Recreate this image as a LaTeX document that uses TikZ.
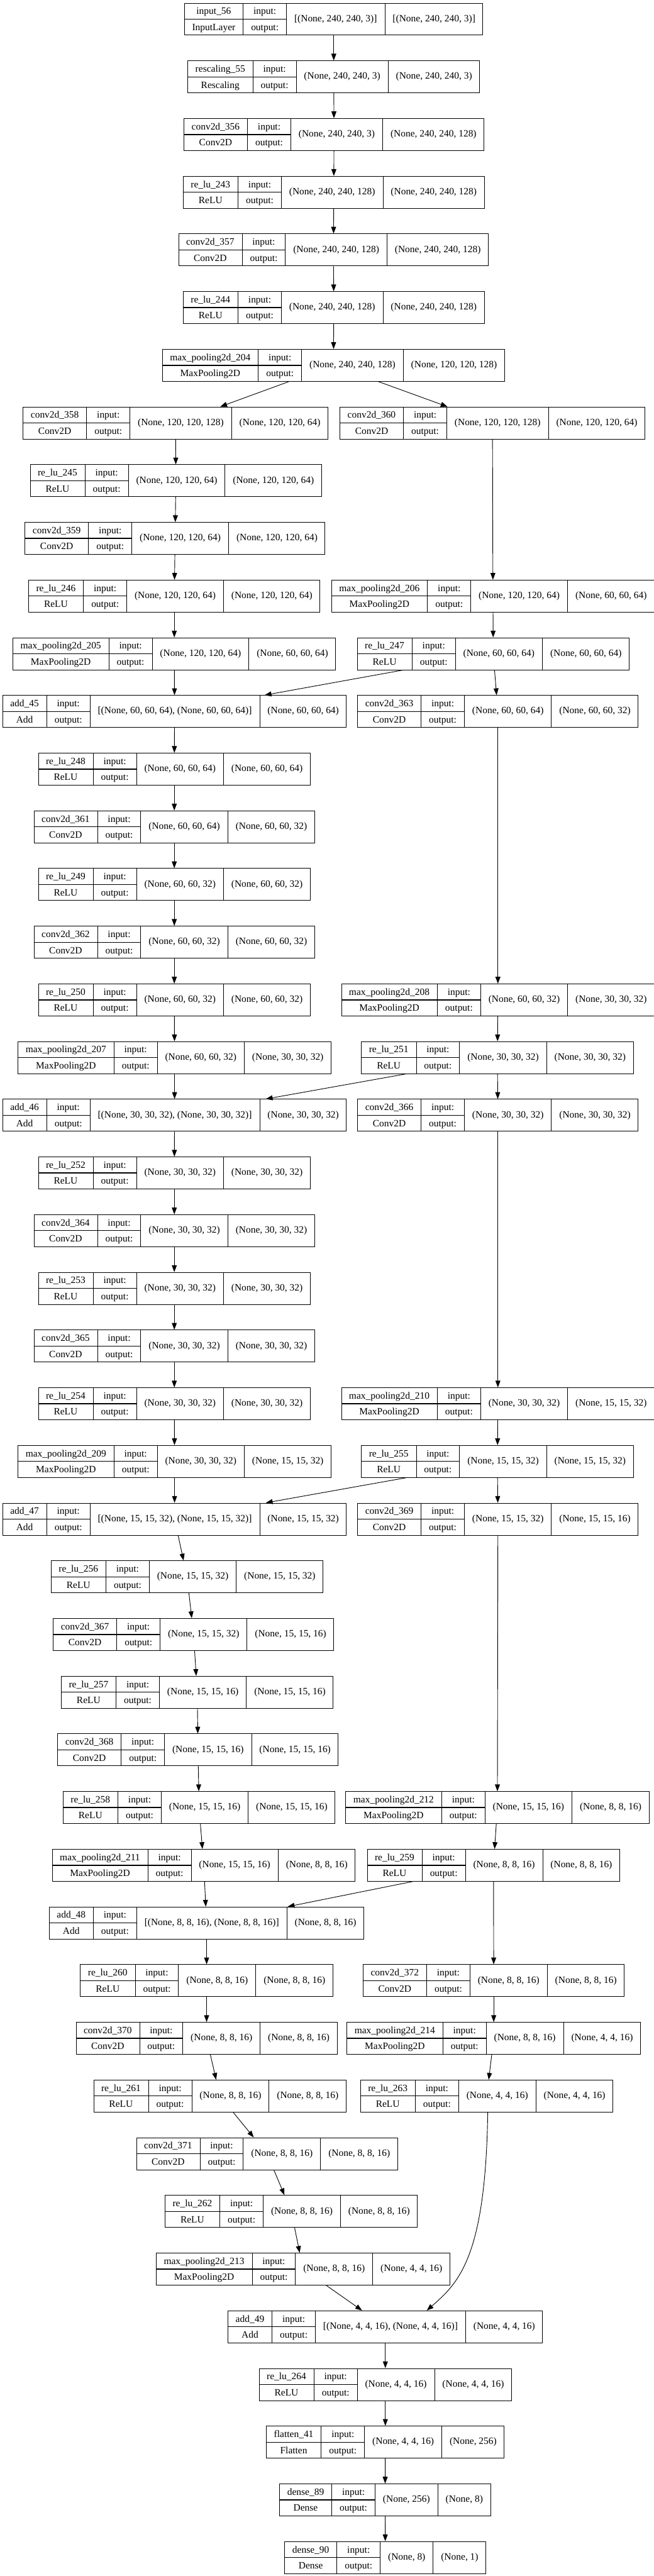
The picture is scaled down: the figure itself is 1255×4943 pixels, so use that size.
\documentclass[tikz,border=0pt]{standalone}
\usepackage{fontspec}
\setmainfont{Liberation Serif}
\usetikzlibrary{shapes.multipart,arrows.meta}

\newcommand{\layer}[7]{%
  \node[layer_box] (#1) at (#2,{-36.75-110.7*#3}) {\begin{tabular}{@{}c@{}}#4\\#5\end{tabular}\nodepart{two}\begin{tabular}{@{}c@{}}input:\\output:\end{tabular}\nodepart{three}#6\nodepart{four}#7};%
  \draw[mid_rule] (#1.west) -- (#1.two split);%
}

\begin{document}
\begin{tikzpicture}[
  x=1pt, y=1pt,
  layer_box/.style={draw, line width=1.1pt, rectangle split, rectangle split horizontal,
    rectangle split parts=4, inner xsep=14.5pt, inner ysep=0pt,
    font=\fontsize{18.67}{30.75}\selectfont},
  mid_rule/.style={line width=1.6pt},
  flow_edge/.style={-{Triangle[length=13pt,width=9.5pt]}, line width=1.1pt},
]
\useasboundingbox (0,0) rectangle (1255,-4943);

\layer{in56}{640.5}{0}{input\_56}{InputLayer}{[(None, 240, 240, 3)]}{[(None, 240, 240, 3)]}
\layer{res55}{640.5}{1}{rescaling\_55}{Rescaling}{(None, 240, 240, 3)}{(None, 240, 240, 3)}
\layer{c356}{641}{2}{conv2d\_356}{Conv2D}{(None, 240, 240, 3)}{(None, 240, 240, 128)}
\layer{r243}{640.5}{3}{re\_lu\_243}{ReLU}{(None, 240, 240, 128)}{(None, 240, 240, 128)}
\layer{c357}{640}{4}{conv2d\_357}{Conv2D}{(None, 240, 240, 128)}{(None, 240, 240, 128)}
\layer{r244}{640.5}{5}{re\_lu\_244}{ReLU}{(None, 240, 240, 128)}{(None, 240, 240, 128)}
\layer{mp204}{640}{6}{max\_pooling2d\_204}{MaxPooling2D}{(None, 240, 240, 128)}{(None, 120, 120, 128)}
\layer{c358}{337}{7}{conv2d\_358}{Conv2D}{(None, 120, 120, 128)}{(None, 120, 120, 64)}
\layer{c360}{945}{7}{conv2d\_360}{Conv2D}{(None, 120, 120, 128)}{(None, 120, 120, 64)}
\layer{r245}{337.5}{8}{re\_lu\_245}{ReLU}{(None, 120, 120, 64)}{(None, 120, 120, 64)}
\layer{c359}{336}{9}{conv2d\_359}{Conv2D}{(None, 120, 120, 64)}{(None, 120, 120, 64)}
\layer{r246}{334.5}{10}{re\_lu\_246}{ReLU}{(None, 120, 120, 64)}{(None, 120, 120, 64)}
\layer{mp206}{946}{10}{max\_pooling2d\_206}{MaxPooling2D}{(None, 120, 120, 64)}{(None, 60, 60, 64)}
\layer{mp205}{334.5}{11}{max\_pooling2d\_205}{MaxPooling2D}{(None, 120, 120, 64)}{(None, 60, 60, 64)}
\layer{r247}{946.5}{11}{re\_lu\_247}{ReLU}{(None, 60, 60, 64)}{(None, 60, 60, 64)}
\layer{a45}{335}{12}{add\_45}{Add}{[(None, 60, 60, 64), (None, 60, 60, 64)]}{(None, 60, 60, 64)}
\layer{c363}{955.5}{12}{conv2d\_363}{Conv2D}{(None, 60, 60, 64)}{(None, 60, 60, 32)}
\layer{r248}{334.5}{13}{re\_lu\_248}{ReLU}{(None, 60, 60, 64)}{(None, 60, 60, 64)}
\layer{c361}{334.5}{14}{conv2d\_361}{Conv2D}{(None, 60, 60, 64)}{(None, 60, 60, 32)}
\layer{r249}{334.5}{15}{re\_lu\_249}{ReLU}{(None, 60, 60, 32)}{(None, 60, 60, 32)}
\layer{c362}{334.5}{16}{conv2d\_362}{Conv2D}{(None, 60, 60, 32)}{(None, 60, 60, 32)}
\layer{r250}{334.5}{17}{re\_lu\_250}{ReLU}{(None, 60, 60, 32)}{(None, 60, 60, 32)}
\layer{mp208}{955.5}{17}{max\_pooling2d\_208}{MaxPooling2D}{(None, 60, 60, 32)}{(None, 30, 30, 32)}
\layer{mp207}{335}{18}{max\_pooling2d\_207}{MaxPooling2D}{(None, 60, 60, 32)}{(None, 30, 30, 32)}
\layer{r251}{954.5}{18}{re\_lu\_251}{ReLU}{(None, 30, 30, 32)}{(None, 30, 30, 32)}
\layer{a46}{335}{19}{add\_46}{Add}{[(None, 30, 30, 32), (None, 30, 30, 32)]}{(None, 30, 30, 32)}
\layer{c366}{955.5}{19}{conv2d\_366}{Conv2D}{(None, 30, 30, 32)}{(None, 30, 30, 32)}
\layer{r252}{334.5}{20}{re\_lu\_252}{ReLU}{(None, 30, 30, 32)}{(None, 30, 30, 32)}
\layer{c364}{334.5}{21}{conv2d\_364}{Conv2D}{(None, 30, 30, 32)}{(None, 30, 30, 32)}
\layer{r253}{334.5}{22}{re\_lu\_253}{ReLU}{(None, 30, 30, 32)}{(None, 30, 30, 32)}
\layer{c365}{334.5}{23}{conv2d\_365}{Conv2D}{(None, 30, 30, 32)}{(None, 30, 30, 32)}
\layer{r254}{334.5}{24}{re\_lu\_254}{ReLU}{(None, 30, 30, 32)}{(None, 30, 30, 32)}
\layer{mp210}{955.5}{24}{max\_pooling2d\_210}{MaxPooling2D}{(None, 30, 30, 32)}{(None, 15, 15, 32)}
\layer{mp209}{335}{25}{max\_pooling2d\_209}{MaxPooling2D}{(None, 30, 30, 32)}{(None, 15, 15, 32)}
\layer{r255}{954.5}{25}{re\_lu\_255}{ReLU}{(None, 15, 15, 32)}{(None, 15, 15, 32)}
\layer{a47}{335}{26}{add\_47}{Add}{[(None, 15, 15, 32), (None, 15, 15, 32)]}{(None, 15, 15, 32)}
\layer{c369}{955.5}{26}{conv2d\_369}{Conv2D}{(None, 15, 15, 32)}{(None, 15, 15, 16)}
\layer{r256}{359}{27}{re\_lu\_256}{ReLU}{(None, 15, 15, 32)}{(None, 15, 15, 32)}
\layer{c367}{371.5}{28}{conv2d\_367}{Conv2D}{(None, 15, 15, 32)}{(None, 15, 15, 16)}
\layer{r257}{378.5}{29}{re\_lu\_257}{ReLU}{(None, 15, 15, 16)}{(None, 15, 15, 16)}
\layer{c368}{380}{30}{conv2d\_368}{Conv2D}{(None, 15, 15, 16)}{(None, 15, 15, 16)}
\layer{r258}{382}{31}{re\_lu\_258}{ReLU}{(None, 15, 15, 16)}{(None, 15, 15, 16)}
\layer{mp212}{954.5}{31}{max\_pooling2d\_212}{MaxPooling2D}{(None, 15, 15, 16)}{(None, 8, 8, 16)}
\layer{mp211}{391}{32}{max\_pooling2d\_211}{MaxPooling2D}{(None, 15, 15, 16)}{(None, 8, 8, 16)}
\layer{r259}{947}{32}{re\_lu\_259}{ReLU}{(None, 8, 8, 16)}{(None, 8, 8, 16)}
\layer{a48}{396.5}{33}{add\_48}{Add}{[(None, 8, 8, 16), (None, 8, 8, 16)]}{(None, 8, 8, 16)}
\layer{r260}{396.5}{34}{re\_lu\_260}{ReLU}{(None, 8, 8, 16)}{(None, 8, 8, 16)}
\layer{c372}{947.5}{34}{conv2d\_372}{Conv2D}{(None, 8, 8, 16)}{(None, 8, 8, 16)}
\layer{c370}{396.5}{35}{conv2d\_370}{Conv2D}{(None, 8, 8, 16)}{(None, 8, 8, 16)}
\layer{mp214}{947.5}{35}{max\_pooling2d\_214}{MaxPooling2D}{(None, 8, 8, 16)}{(None, 4, 4, 16)}
\layer{r261}{422}{36}{re\_lu\_261}{ReLU}{(None, 8, 8, 16)}{(None, 8, 8, 16)}
\layer{r263}{934}{36}{re\_lu\_263}{ReLU}{(None, 4, 4, 16)}{(None, 4, 4, 16)}
\layer{c371}{512.5}{37}{conv2d\_371}{Conv2D}{(None, 8, 8, 16)}{(None, 8, 8, 16)}
\layer{r262}{559}{38}{re\_lu\_262}{ReLU}{(None, 8, 8, 16)}{(None, 8, 8, 16)}
\layer{mp213}{581.5}{39}{max\_pooling2d\_213}{MaxPooling2D}{(None, 8, 8, 16)}{(None, 4, 4, 16)}
\layer{a49}{739.5}{40}{add\_49}{Add}{[(None, 4, 4, 16), (None, 4, 4, 16)]}{(None, 4, 4, 16)}
\layer{r264}{739.5}{41}{re\_lu\_264}{ReLU}{(None, 4, 4, 16)}{(None, 4, 4, 16)}
\layer{fl41}{739.5}{42}{flatten\_41}{Flatten}{(None, 4, 4, 16)}{(None, 256)}
\layer{d89}{739}{43}{dense\_89}{Dense}{(None, 256)}{(None, 8)}
\layer{d90}{739.5}{44}{dense\_90}{Dense}{(None, 8)}{(None, 1)}

\foreach \a/\b in {in56/res55, res55/c356, c356/r243, r243/c357, c357/r244, r244/mp204,
  mp204/c358, mp204/c360, c358/r245, r245/c359, c359/r246, r246/mp205, mp205/a45,
  c360/mp206, mp206/r247, r247/a45, r247/c363,
  a45/r248, r248/c361, c361/r249, r249/c362, c362/r250, r250/mp207, mp207/a46,
  c363/mp208, mp208/r251, r251/a46, r251/c366,
  a46/r252, r252/c364, c364/r253, r253/c365, c365/r254, r254/mp209, mp209/a47,
  c366/mp210, mp210/r255, r255/a47, r255/c369,
  a47/r256, r256/c367, c367/r257, r257/c368, c368/r258, r258/mp211, mp211/a48,
  c369/mp212, mp212/r259, r259/a48, r259/c372,
  a48/r260, r260/c370, c370/r261, r261/c371, c371/r262, r262/mp213, mp213/a49,
  c372/mp214, mp214/r263,
  a49/r264, r264/fl41, fl41/d89, d89/d90}
  \draw[flow_edge] (\a) -- (\b);
\draw[flow_edge] ([xshift=2pt]r263.south) .. controls +(-4,-278) and +(61,53) .. ([xshift=79.5pt]a49.north);
\end{tikzpicture}
\end{document}
